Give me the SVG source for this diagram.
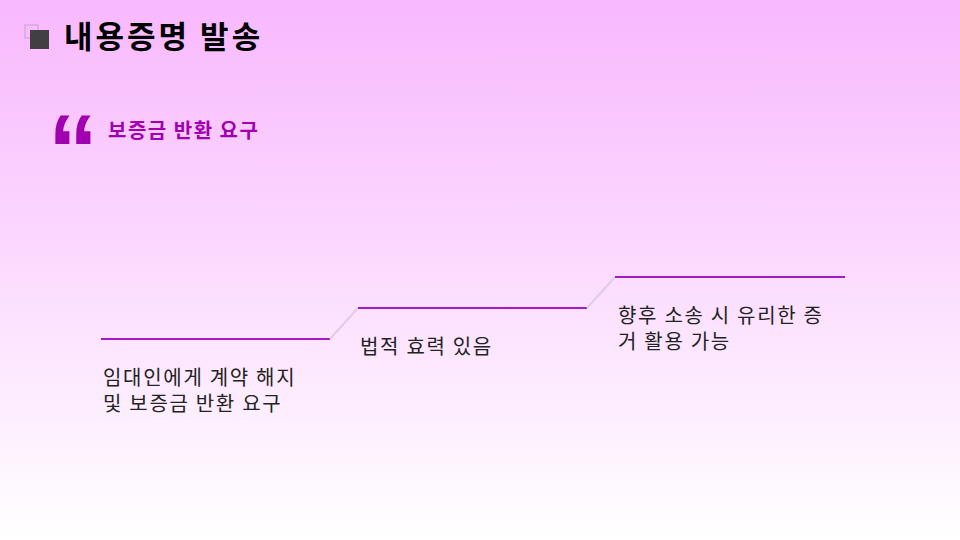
<svg xmlns="http://www.w3.org/2000/svg" width="960" height="540" viewBox="0 0 960 540">
<defs>
<linearGradient id="bg" x1="0" y1="0" x2="0" y2="1">
<stop offset="0" stop-color="#f8b8fe"/>
<stop offset="1" stop-color="#ffffff"/>
</linearGradient>
<style>
.t{font-family:"Noto Sans CJK KR","Noto Sans",sans-serif;}
.body{font-size:20px;fill:#222222;letter-spacing:1.7px;}
.step{stroke:#a21ac0;stroke-width:2;fill:none;}
.riser{stroke:#e0cce8;stroke-width:2;fill:none;}
</style>
</defs>
<rect width="960" height="540" fill="url(#bg)"/>
<g id="title">
<rect x="25" y="25" width="13" height="13" fill="none" stroke="#c8a0d0" stroke-width="1"/>
<rect x="30" y="30" width="19" height="19" fill="#404040"/>
<text class="t" x="64" y="48" font-size="31" font-weight="bold" fill="#000000" letter-spacing="3">내용증명 발송</text>
</g>
<g id="quote">
<text x="48" y="185" font-family="Liberation Sans, sans-serif" font-size="100" font-weight="bold" fill="#a000b0">“</text>
<text class="t" x="108" y="138" font-size="20" font-weight="bold" fill="#a000b0" letter-spacing="1.5">보증금 반환 요구</text>
</g>
<g id="connectors">
<line class="step" x1="101" y1="339" x2="330" y2="339"/>
<line class="riser" x1="330" y1="339" x2="358" y2="308"/>
<line class="step" x1="358" y1="308" x2="587" y2="308"/>
<line class="riser" x1="587" y1="308" x2="615" y2="277"/>
<line class="step" x1="615" y1="277" x2="845" y2="277"/>
</g>
<g id="step1">
<text class="t body" x="103" y="385">임대인에게 계약 해지</text>
<text class="t body" x="103" y="411">및 보증금 반환 요구</text>
</g>
<g id="step2">
<text class="t body" x="360" y="354">법적 효력 있음</text>
</g>
<g id="step3">
<text class="t body" x="618" y="323">향후 소송 시 유리한 증</text>
<text class="t body" x="618" y="349">거 활용 가능</text>
</g>
</svg>
